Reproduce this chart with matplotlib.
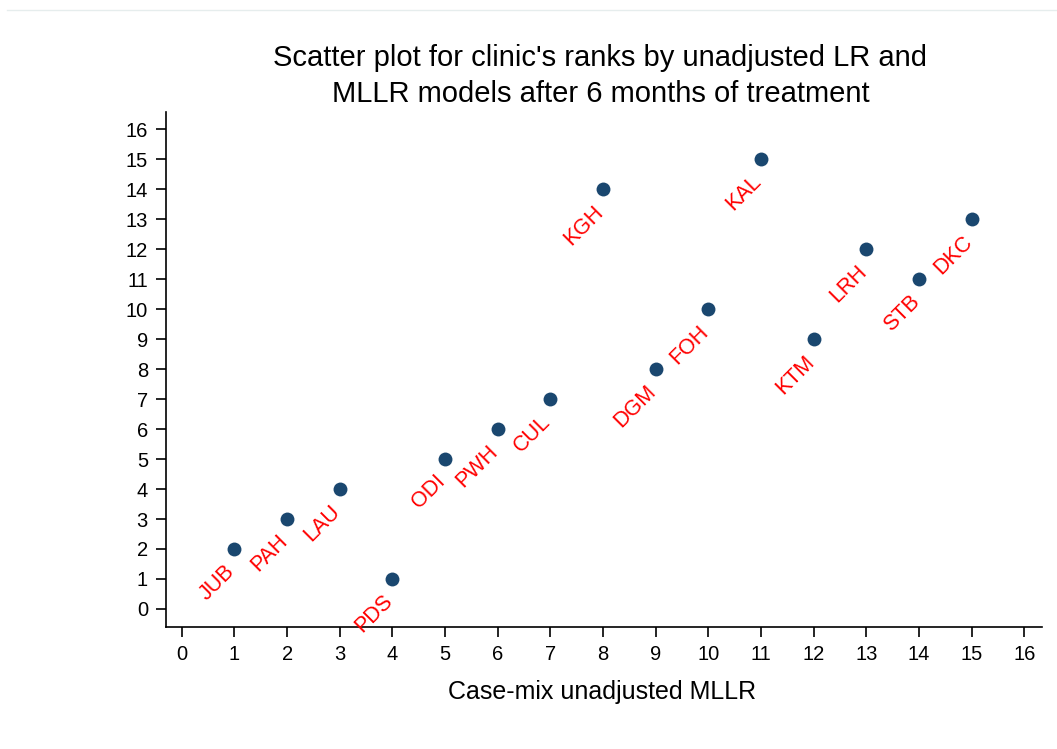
import matplotlib
matplotlib.use("Agg")
import matplotlib.pyplot as plt
from matplotlib.lines import Line2D

# ── Data ──────────────────────────────────────────────────────────────────────
clinics  = ["JUB", "PAH", "LAU", "PDS", "ODI", "PWH", "CUL", "KGH",
            "DGM", "FOH", "KAL", "KTM", "LRH", "STB", "DKC"]
mllr_rank = [1, 2, 3, 4, 5, 6, 7, 8, 9, 10, 11, 12, 13, 14, 15]
lr_rank   = [2, 3, 4, 1, 5, 6, 7, 14, 8, 10, 15, 9, 12, 11, 13]
ticks     = list(range(0, 17))

NAVY = "#1a476f"
plt.rcParams["font.family"] = ["Liberation Sans", "DejaVu Sans"]

fig = plt.figure(figsize=(10.57, 7.49), dpi=100)
ax = fig.add_axes([0.157, 0.163, 0.829, 0.687])

ax.scatter(mllr_rank, lr_rank, s=100, color=NAVY, zorder=3, linewidths=0)
for name, x, y in zip(clinics, mllr_rank, lr_rank):
    ax.annotate(name, (x, y), xytext=(-2, -14), textcoords="offset points",
                rotation=45, rotation_mode="anchor", ha="right", va="center",
                color="red", fontsize=15.5)

ax.set_xlim(-0.30, 16.34)
ax.set_ylim(-0.6, 16.57)
ax.set_xticks(ticks)
ax.set_yticks(ticks)
ax.tick_params(axis="both", direction="out", length=7, width=1.2,
               labelsize=14.5, pad=6)
for side in ("top", "right"):
    ax.spines[side].set_visible(False)
for side in ("left", "bottom"):
    ax.spines[side].set_linewidth(1.2)

fig.text(0.568, 0.923, "Scatter plot for clinic's ranks by unadjusted LR and",
         ha="center", va="center", fontsize=21)
fig.text(0.568, 0.874, "MLLR models after 6 months of treatment",
         ha="center", va="center", fontsize=21)
fig.text(0.570, 0.076, "Case-mix unadjusted MLLR", ha="center", va="center",
         fontsize=18)

fig.add_artist(Line2D([0.007, 1.0], [0.987, 0.987], transform=fig.transFigure,
                      color="#e6eded", linewidth=1))

fig.savefig("out.png", dpi=100, facecolor="white")
